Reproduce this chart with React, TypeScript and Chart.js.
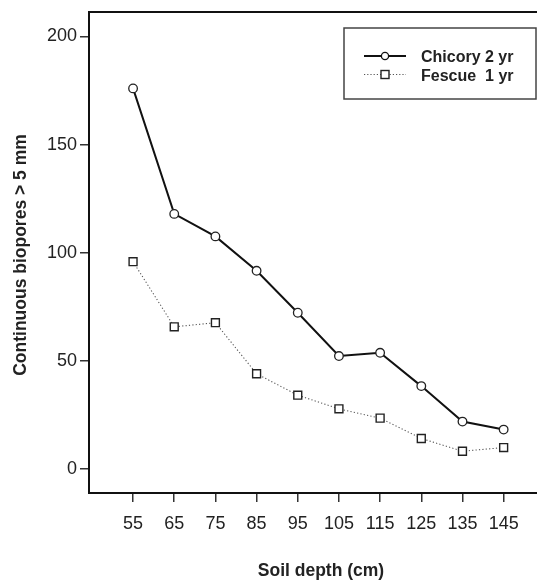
import React, { useEffect, useRef } from "react";
import { Chart, registerables } from "chart.js";

Chart.register(...registerables);

const depths = [55, 65, 75, 85, 95, 105, 115, 125, 135, 145];
const chicory = [176, 118, 107.6, 91.7, 72.3, 52.3, 53.8, 38.4, 22, 18.3];
const fescue = [95.9, 65.8, 67.7, 44.1, 34.2, 27.9, 23.6, 14.2, 8.3, 10];
const yTicks = [0, 50, 100, 150, 200];
const seriesNames = ["Chicory 2 yr", "Fescue  1 yr"];
const xTitle = "Soil depth (cm)";
const yTitle = "Continuous biopores > 5 mm";

const FONT = "'Liberation Sans', Arial, Helvetica, sans-serif";

const decorPlugin = {
  id: "decor",
  afterDraw(chart: any) {
    const ctx = chart.ctx;
    const a = chart.chartArea;
    ctx.save();
    // top border
    ctx.strokeStyle = "#111";
    ctx.lineWidth = 2;
    ctx.beginPath();
    ctx.moveTo(a.left - 1, a.top);
    ctx.lineTo(a.right, a.top);
    ctx.stroke();

    // titles
    ctx.fillStyle = "#222";
    ctx.font = `bold 17.5px ${FONT}`;
    ctx.textAlign = "center";
    ctx.textBaseline = "alphabetic";
    ctx.fillText(xTitle, 321, 576);
    ctx.save();
    ctx.translate(25.5, 255);
    ctx.rotate(-Math.PI / 2);
    ctx.fillText(yTitle, 0, 0);
    ctx.restore();

    // legend box
    ctx.strokeStyle = "#444";
    ctx.lineWidth = 1.5;
    ctx.strokeRect(344, 28, 192, 71);

    const rows = [56, 74.5];
    const baselines = [62, 80.5];
    // row 1: solid line + circle
    ctx.strokeStyle = "#111";
    ctx.lineWidth = 1.8;
    ctx.setLineDash([]);
    ctx.beginPath();
    ctx.moveTo(364, rows[0]);
    ctx.lineTo(406, rows[0]);
    ctx.stroke();
    ctx.fillStyle = "#fff";
    ctx.lineWidth = 1.3;
    ctx.beginPath();
    ctx.arc(385, rows[0], 3.6, 0, Math.PI * 2);
    ctx.fill();
    ctx.stroke();
    // row 2: dotted line + square
    ctx.strokeStyle = "#555";
    ctx.lineWidth = 1.1;
    ctx.setLineDash([1.2, 2]);
    ctx.beginPath();
    ctx.moveTo(364, rows[1]);
    ctx.lineTo(406, rows[1]);
    ctx.stroke();
    ctx.setLineDash([]);
    ctx.strokeStyle = "#222";
    ctx.lineWidth = 1.4;
    ctx.fillStyle = "#fff";
    ctx.fillRect(381, rows[1] - 4, 8, 8);
    ctx.strokeRect(381, rows[1] - 4, 8, 8);

    ctx.fillStyle = "#222";
    ctx.font = `bold 16px ${FONT}`;
    ctx.textAlign = "left";
    ctx.fillText(seriesNames[0], 421, baselines[0]);
    ctx.fillText(seriesNames[1], 421, baselines[1]);
    ctx.restore();
  },
};

const zeroPad = (s: any) => {
  s.paddingLeft = 0;
  s.paddingRight = 0;
  s.paddingTop = 0;
  s.paddingBottom = 0;
};

export default function App() {
  const ref = useRef<HTMLCanvasElement>(null);
  useEffect(() => {
    const chart = new Chart(ref.current!, {
      type: "line",
      data: {
        datasets: [
          {
            label: seriesNames[0],
            data: depths.map((d, i) => ({ x: d, y: chicory[i] })),
            borderColor: "#111",
            borderWidth: 2,
            pointStyle: "circle",
            pointRadius: 4.3,
            pointBorderWidth: 1.3,
            pointBorderColor: "#222",
            pointBackgroundColor: "#fff",
            tension: 0,
          },
          {
            label: seriesNames[1],
            data: depths.map((d, i) => ({ x: d, y: fescue[i] })),
            borderColor: "#555",
            borderWidth: 1.1,
            borderDash: [1.2, 2.2],
            pointStyle: "rect",
            pointRadius: 5.6,
            pointBorderWidth: 1.4,
            pointBorderColor: "#222",
            pointBackgroundColor: "#fff",
            tension: 0,
          },
        ],
      },
      options: {
        animation: false,
        responsive: false,
        layout: { autoPadding: false, padding: { top: 12, left: 0, right: 0, bottom: 0 } },
        plugins: { legend: { display: false }, tooltip: { enabled: false } },
        scales: {
          x: {
            type: "linear",
            min: 44.3,
            max: 153.1,
            afterBuildTicks: (s: any) => {
              s.ticks = depths.map((v) => ({ value: v }));
            },
            afterFit: (s: any) => {
              s.height = 88;
              zeroPad(s);
            },
            grid: {
              display: true,
              drawOnChartArea: false,
              drawTicks: true,
              tickLength: 9,
              color: "#333",
              lineWidth: 1.5,
            },
            border: { display: true, color: "#111", width: 2 },
            ticks: {
              color: "#222",
              font: { family: FONT, size: 18 },
              padding: 11,
              maxRotation: 0,
              autoSkip: false,
              callback: (v: any) => String(v),
            },
          },
          y: {
            min: -11,
            max: 211.3,
            afterBuildTicks: (s: any) => {
              s.ticks = yTicks.map((v) => ({ value: v }));
            },
            afterFit: (s: any) => {
              s.width = 89;
              zeroPad(s);
            },
            grid: {
              display: true,
              drawOnChartArea: false,
              drawTicks: true,
              tickLength: 9,
              color: "#333",
              lineWidth: 1.5,
            },
            border: { display: true, color: "#111", width: 2 },
            ticks: {
              color: "#222",
              font: { family: FONT, size: 18 },
              padding: 3,
              callback: (v: any) => String(v),
            },
          },
        },
      },
      plugins: [decorPlugin],
    } as any);
    return () => chart.destroy();
  }, []);
  return (
    <div style={{ position: "fixed", left: 0, top: 0, width: 537, height: 581, background: "#fff" }}>
      <canvas ref={ref} width={537} height={581} style={{ width: 537, height: 581 }} />
    </div>
  );
}
